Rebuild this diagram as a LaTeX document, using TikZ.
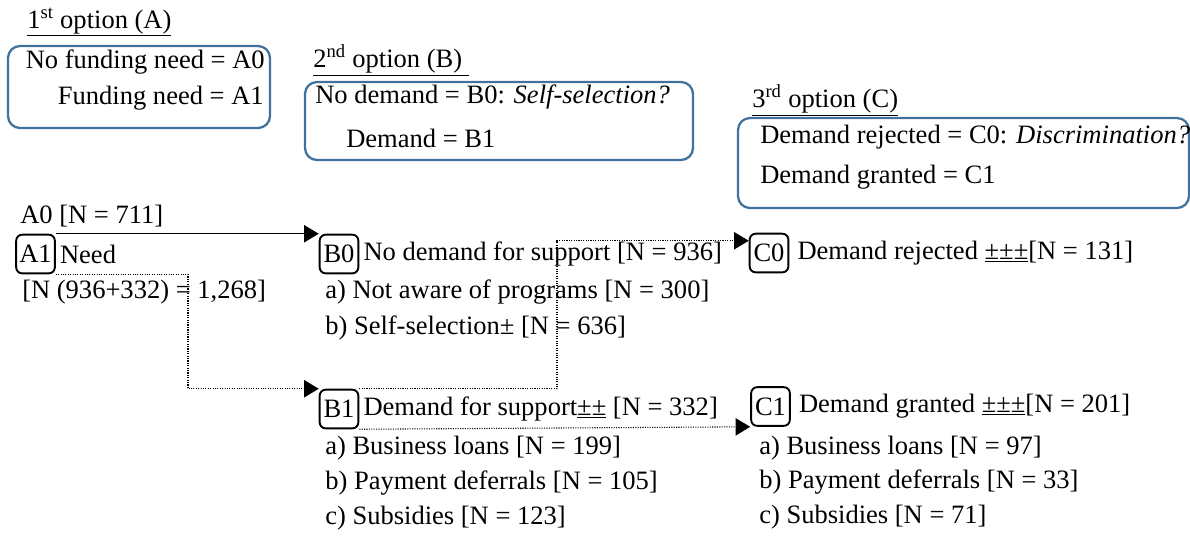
\documentclass[tikz,border=0pt]{standalone}
\usepackage{fontspec}
\setmainfont{Liberation Serif}
\usetikzlibrary{arrows.meta,positioning,calc}
\definecolor{optblue}{RGB}{65,113,156}

\begin{document}
\begin{tikzpicture}[x=0.75pt,y=-0.75pt,
  >={Triangle[length=11pt,width=13pt]},
  every node/.style={font=\fontsize{19.9}{24}\selectfont},
  txt/.style={inner sep=0pt,anchor=west},
  optbox/.style={draw=optblue,line width=1.7pt,rounded corners=9pt},
  tag/.style={draw,line width=1.4pt,rounded corners=4.5pt,inner sep=0pt,minimum size=29pt},
  link/.style={line width=0.8pt,->},
  dotlink/.style={line width=0.8pt,densely dotted,->}]
  \useasboundingbox (0,0) rectangle (1190,537);

  % the three options
  \draw[optbox] (8,46) rectangle (270,128);
  \draw[optbox] (305,82) rectangle (693,160);
  \draw[optbox] (738,118) rectangle (1189,208);
  \node[txt] (optA) at (27,22) {\underline{1\textsuperscript{st} option (A)}};
  \node[txt,anchor=east] (defA0) at (265,62) {No funding need = A0};
  \node[txt,anchor=east] (defA1) at (264,98) {Funding need = A1};
  \node[txt] (optB) at (313,60) {\underline{2\textsuperscript{nd} option (B)~}};
  \node[txt] (defB0) at (315,97) {No demand = B0: \textit{Self-selection?}};
  \node[txt] (defB1) at (346,138) {Demand = B1};
  \node[txt] (optC) at (752,100) {\underline{3\textsuperscript{rd} option (C)}};
  \node[txt] (defC0) at (760,137) {Demand rejected = C0: \textit{Discrimination?}};
  \node[txt] (defC1) at (760,177) {Demand granted = C1};

  % need
  \node[txt] (A0) at (20,216) {A0 [N = 711]};
  \node[tag] (A1) at (35.5,254) {A1};
  \node[txt,right=3pt of A1] (A1lbl) {Need};
  \node[txt] (A1n) at (22,292) {[N (936+332) = 1,268]};

  % demand
  \node[tag] (B0) at (339,254) {B0};
  \node[txt,right=3pt of B0] (B0lbl) {No demand for support [N = 936]};
  \node[txt] (B0a) at (325,292) {a) Not aware of programs [N = 300]};
  \node[txt] (B0b) at (325,328) {b) Self-selection± [N = 636]};
  \node[tag] (B1) at (339,409) {B1};
  \node[txt,right=3pt of B1] (B1lbl) {Demand for support\underline{±±} [N = 332]};
  \node[txt] (B1a) at (325,448) {a) Business loans [N = 199]};
  \node[txt] (B1b) at (325,483) {b) Payment deferrals [N = 105]};
  \node[txt] (B1c) at (325,518) {c) Subsidies [N = 123]};

  % outcome
  \node[tag] (C0) at (769,253) {C0};
  \node[txt,right=6pt of C0] (C0lbl) {Demand rejected \underline{±±±}[N = 131]};
  \node[tag] (C1) at (770.5,406.5) {C1};
  \node[txt,right=6pt of C1] (C1lbl) {Demand granted \underline{±±±}[N = 201]};
  \node[txt] (C1a) at (759,448) {a) Business loans [N = 97]};
  \node[txt] (C1b) at (759,482) {b) Payment deferrals [N = 33]};
  \node[txt] (C1c) at (759,517) {c) Subsidies [N = 71]};

  % flows
  \coordinate (bendA) at (188,330);
  \coordinate (bendB) at (557,330);
  \draw[link] (A1.north east) -- (B0.north west);
  \draw[dotlink] (A1.south east) -| (bendA) |- (B1.north west);
  \draw[dotlink] (B1.north east) -| (bendB) |- ($(C0.north west)+(0,8)$);
  \draw[dotlink] (B1.south east) -- (C1.south west);
\end{tikzpicture}
\end{document}
